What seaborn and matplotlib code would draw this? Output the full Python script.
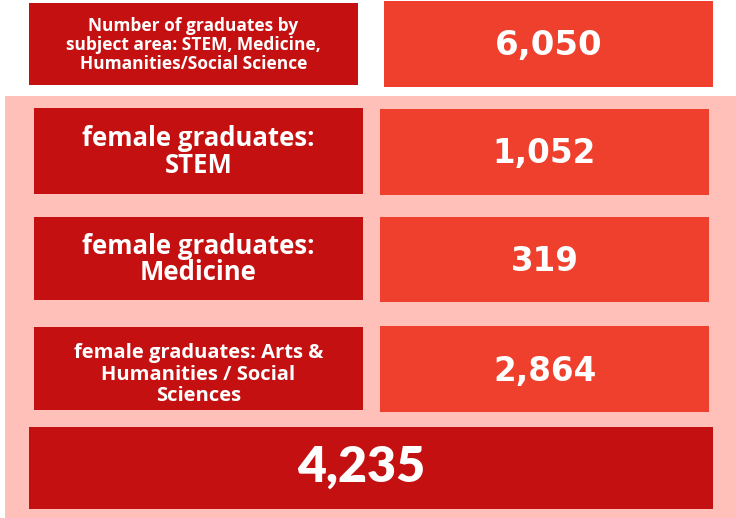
import matplotlib
matplotlib.use("Agg")
import matplotlib.pyplot as plt
from matplotlib.patches import Rectangle
import seaborn as sns

# Data
header_label = "Number of graduates by\nsubject area: STEM, Medicine,\nHumanities/Social Science"
header_value = 6050
categories = ["female graduates:\nSTEM", "female graduates:\nMedicine",
              "female graduates: Arts &\nHumanities / Social\nSciences"]
values = [1052, 319, 2864]
total_female = 4235

sns.set_theme(style="white")
plt.rcParams['font.family'] = ['Open Sans', 'DejaVu Sans']

DARK = "#C41010"
ORANGE = "#EE402C"
PINK = "#FFC0BA"
NUMFONT = ['DejaVu Sans']

W, H = 736, 518
fig = plt.figure(figsize=(W / 100, H / 100), dpi=100)
ax = fig.add_axes([0, 0, 1, 1])
ax.set_xlim(0, W)
ax.set_ylim(H, 0)
ax.axis("off")

def box(x0, y0, x1, y1, color):
    ax.add_patch(Rectangle((x0, y0), x1 - x0, y1 - y0, facecolor=color, edgecolor="none"))

# header
box(29, 3, 358, 85, DARK)
box(384, 1, 713, 87, ORANGE)
ax.text((29 + 358) / 2, 45, header_label, color="white", ha="center", va="center",
        fontsize=12.5, fontweight="bold", linespacing=1.08)
ax.text((384 + 713) / 2, 45, f"{header_value:,}", color="white", ha="center", va="center",
        fontsize=24.5, fontweight="bold", family=NUMFONT)

# pink panel
box(5, 96, 736, 518, PINK)

rows_left = [(108, 194), (217, 300), (327, 410)]
rows_right = [(109, 195), (217, 302), (326, 412)]
label_sizes = [18.5, 18.5, 14.5]
label_spacing = [1.0, 1.0, 1.1]
label_dy = [1, 1, 6]
for (ly0, ly1), (ry0, ry1), lab, val, fs, ls, dy in zip(rows_left, rows_right, categories, values,
                                                       label_sizes, label_spacing, label_dy):
    box(34, ly0, 363, ly1, DARK)
    box(380, ry0, 709, ry1, ORANGE)
    ax.text((34 + 363) / 2, (ly0 + ly1) / 2 + dy, lab, color="white", ha="center", va="center",
            fontsize=fs, fontweight="bold", linespacing=ls)
    ax.text((380 + 709) / 2, (ry0 + ry1) / 2 + 2, f"{val:,}", color="white", ha="center", va="center",
            fontsize=23.5, fontweight="bold", family=NUMFONT)

box(29, 427, 713, 509, DARK)
ax.text(361, 467, f"{total_female:,}", color="white", ha="center", va="center",
        fontsize=36, fontweight="heavy", family=['Lato', 'DejaVu Sans'])

fig.savefig("out.png", dpi=100)
